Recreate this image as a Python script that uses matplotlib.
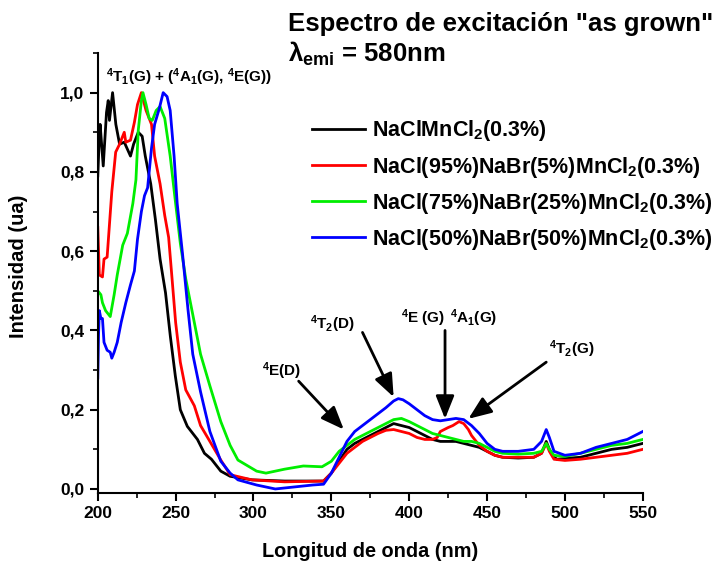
import numpy as np
import matplotlib
matplotlib.use('Agg')
import matplotlib.pyplot as plt
from matplotlib.ticker import MultipleLocator

plt.rcParams['font.family'] = ['Liberation Sans', 'DejaVu Sans']
plt.rcParams['font.weight'] = 'bold'
plt.rcParams['mathtext.fontset'] = 'custom'
plt.rcParams['mathtext.rm'] = 'Liberation Sans:bold'
plt.rcParams['mathtext.it'] = 'Liberation Sans:bold'
plt.rcParams['mathtext.bf'] = 'Liberation Sans:bold'
plt.rcParams['mathtext.default'] = 'rm'

## DATA ##

# NaClMnCl2(0.3%)
wl_black = [200, 201, 201.5, 203.5, 205.6, 206.7, 207.5, 209.5, 211.6, 214, 217, 221, 223, 226,
            228.5, 230.5, 234, 237, 240, 243.5, 246.6, 249.8, 253, 257.5, 264, 268.5, 273, 279,
            285, 299, 320, 345, 350, 355, 360, 365, 370, 375, 380, 385, 390, 395, 400, 405, 410,
            415, 420, 425, 430, 435, 440, 445, 450, 455, 460, 470, 480, 485, 488, 490, 493, 495,
            500, 510, 520, 530, 540, 550]
int_black = [0.79, 0.89, 0.92, 0.815, 0.95, 0.98, 0.93, 1.0, 0.92, 0.87, 0.875, 0.84, 0.87, 0.9,
             0.89, 0.84, 0.77, 0.68, 0.58, 0.495, 0.385, 0.285, 0.2, 0.158, 0.125, 0.09, 0.075, 0.045,
             0.032, 0.023, 0.02, 0.02, 0.04, 0.07, 0.1, 0.115, 0.125, 0.135, 0.145, 0.155, 0.165, 0.16,
             0.155, 0.145, 0.135, 0.125, 0.12, 0.12, 0.12, 0.115, 0.11, 0.105, 0.095, 0.085, 0.08,
             0.078, 0.08, 0.09, 0.12, 0.1, 0.08, 0.075, 0.077, 0.08, 0.09, 0.1, 0.105, 0.115]

# NaCl(95%)NaBr(5%)MnCl2(0.3%)
wl_red = [200, 201, 203, 204, 206, 207, 209, 211.5, 214, 217, 218, 221, 223.5, 225.5, 228, 231,
          234.5, 236.5, 240, 243, 245.5, 247.5, 250, 253, 256.5, 262, 266, 270.5, 279, 285, 299,
          320, 345, 350, 355, 360, 365, 370, 375, 380, 385, 390, 395, 400, 405, 410, 415, 418,
          420, 425, 428, 432, 435, 438, 440, 445, 450, 455, 460, 470, 480, 485, 488, 490, 493,
          500, 510, 520, 530, 540, 550]
int_red = [0.66, 0.54, 0.535, 0.58, 0.585, 0.64, 0.75, 0.85, 0.87, 0.9, 0.875, 0.88, 0.925, 0.97,
           1.0, 0.955, 0.92, 0.84, 0.77, 0.69, 0.635, 0.54, 0.42, 0.32, 0.25, 0.21, 0.16, 0.13,
           0.073, 0.036, 0.023, 0.018, 0.02, 0.04, 0.065, 0.09, 0.105, 0.12, 0.13, 0.14, 0.148,
           0.15, 0.145, 0.14, 0.13, 0.125, 0.125, 0.13, 0.145, 0.155, 0.16, 0.17, 0.165, 0.15,
           0.135, 0.11, 0.095, 0.085, 0.08, 0.08, 0.08, 0.09, 0.115, 0.095, 0.075, 0.072, 0.075,
           0.08, 0.085, 0.09, 0.1]

# NaCl(75%)NaBr(25%)MnCl2(0.3%)
wl_green = [200, 202, 203, 205, 208, 210.5, 212.5, 216, 219, 222.5, 224.5, 226, 228, 229, 231, 233,
            235, 237.5, 240, 243, 246.5, 250, 253, 256.5, 261, 266, 272, 279, 285, 290, 302, 308,
            320, 332, 344, 350, 355, 360, 365, 370, 375, 380, 385, 390, 395, 400, 405, 410, 415,
            420, 425, 430, 435, 440, 445, 450, 455, 460, 470, 480, 485, 488, 490, 493, 500, 510,
            520, 530, 540, 550]
int_green = [0.5, 0.49, 0.47, 0.45, 0.435, 0.49, 0.54, 0.615, 0.645, 0.72, 0.78, 0.905, 0.98, 1.0,
             0.97, 0.935, 0.93, 0.955, 0.965, 0.935, 0.84, 0.72, 0.62, 0.53, 0.44, 0.34, 0.26, 0.17,
             0.11, 0.073, 0.045, 0.04, 0.05, 0.058, 0.056, 0.07, 0.095, 0.11, 0.125, 0.135, 0.145,
             0.155, 0.165, 0.175, 0.178, 0.17, 0.16, 0.15, 0.14, 0.135, 0.13, 0.125, 0.12, 0.12,
             0.115, 0.105, 0.095, 0.09, 0.088, 0.09, 0.095, 0.115, 0.1, 0.085, 0.082, 0.09, 0.1,
             0.11, 0.115, 0.125]

# NaCl(50%)NaBr(50%)MnCl2(0.3%)
wl_blue = [200, 200.5, 201, 202, 203, 204, 206, 208, 209, 210.5, 212.5, 215, 218, 221, 223.5,
           225.5, 228, 230, 232, 234.5, 236.5, 239.5, 242, 244.5, 246.5, 249, 251, 254.5, 258, 261,
           266, 272, 279, 285, 290, 302, 314, 326, 338, 345, 350, 355, 360, 365, 370, 375, 380,
           385, 390, 393, 396, 400, 405, 410, 415, 420, 425, 430, 435, 440, 445, 450, 455, 460,
           470, 480, 485, 488, 490, 493, 500, 510, 520, 530, 540, 550]
int_blue = [0.28, 0.39, 0.45, 0.43, 0.43, 0.37, 0.35, 0.345, 0.33, 0.345, 0.37, 0.42, 0.47, 0.515,
            0.55, 0.63, 0.7, 0.74, 0.76, 0.86, 0.92, 0.96, 1.0, 0.99, 0.955, 0.84, 0.72, 0.59, 0.45,
            0.34, 0.245, 0.145, 0.07, 0.04, 0.023, 0.01, 0.0, 0.005, 0.01, 0.012, 0.04, 0.08, 0.12,
            0.145, 0.16, 0.175, 0.19, 0.205, 0.222, 0.228, 0.225, 0.215, 0.2, 0.185, 0.175, 0.172,
            0.175, 0.178, 0.175, 0.16, 0.14, 0.115, 0.1, 0.095, 0.095, 0.1, 0.12, 0.15, 0.13, 0.095,
            0.085, 0.09, 0.105, 0.115, 0.125, 0.145]

labels = ['NaClMnCl$_2$(0.3%)',
          'NaCl(95%)NaBr(5%)MnCl$_2$(0.3%)',
          'NaCl(75%)NaBr(25%)MnCl$_2$(0.3%)',
          'NaCl(50%)NaBr(50%)MnCl$_2$(0.3%)']
colors = ['#000000', '#ff0000', '#00ee00', '#0000ff']

x_ticks = [200, 250, 300, 350, 400, 450, 500, 550]
y_ticks = [0.0, 0.2, 0.4, 0.6, 0.8, 1.0]
y_ticklabels = ['0,0', '0,2', '0,4', '0,6', '0,8', '1,0']

## PLOT ##

fig = plt.figure(figsize=(7.19, 5.64), dpi=100)
ax = fig.add_axes([0.136, 0.126, 0.758, 0.780])

series = [(wl_black, int_black), (wl_red, int_red), (wl_green, int_green), (wl_blue, int_blue)]
for (wl, inten), lab, col in zip(series, labels, colors):
    ax.plot(wl, inten, color=col, lw=2, label=lab)

ax.set_xlim(200, 550)
ax.set_ylim(-0.01, 1.1)
ax.set_xticks(x_ticks)
ax.set_yticks(y_ticks, y_ticklabels)
ax.xaxis.set_minor_locator(MultipleLocator(25))
ax.yaxis.set_minor_locator(MultipleLocator(0.1))

for side in ['top', 'right']:
    ax.spines[side].set_visible(False)
for side in ['left', 'bottom']:
    ax.spines[side].set_linewidth(1.5)
ax.tick_params(which='major', direction='out', length=6, width=1.5, labelsize=12.5)
ax.tick_params(which='minor', direction='out', length=3.5, width=1.2)

ax.set_xlabel('Longitud de onda (nm)', fontsize=14.3, fontweight='bold')
ax.set_ylabel('Intensidad (ua)', fontsize=14.5, fontweight='bold')
ax.xaxis.set_label_coords(0.5, -0.112)
ax.yaxis.set_label_coords(-0.128, 0.515)

fig.legend(loc='upper left', bbox_to_anchor=(0.434, 0.79), frameon=False, fontsize=15.5,
           handlelength=2.45, handletextpad=0.33, labelspacing=0.52, borderpad=0,
           borderaxespad=0)

fig.text(0.40, 0.945, 'Espectro de excitación "as grown"', fontsize=18.5, fontweight='bold')
fig.text(0.40, 0.890, 'λ$_{emi}$ = 580nm', fontsize=18.5, fontweight='bold')

# band assignments
ax.text(205, 1.028, '$^4$T$_1$(G) + ($^4$A$_1$(G), $^4$E(G))', fontsize=11)
ax.text(305.3, 0.285, '$^4$E(D)', fontsize=11)
ax.text(336, 0.404, '$^4$T$_2$(D)', fontsize=11)
ax.text(395, 0.42, '$^4$E (G)', fontsize=11)
ax.text(426, 0.42, '$^4$A$_1$(G)', fontsize=11)
ax.text(490, 0.34, '$^4$T$_2$(G)', fontsize=11)

arrows = [((329, 0.272), (358, 0.15)),
          ((370, 0.395), (390, 0.232)),
          ((423, 0.40), (423, 0.177)),
          ((488, 0.32), (438, 0.177))]
for tail, head in arrows:
    ax.annotate('', xy=head, xytext=tail,
                arrowprops=dict(arrowstyle='-|>,head_length=0.7,head_width=0.28',
                                mutation_scale=20, lw=2, color='k',
                                shrinkA=0, shrinkB=0))

fig.savefig('out.png', dpi=100)
